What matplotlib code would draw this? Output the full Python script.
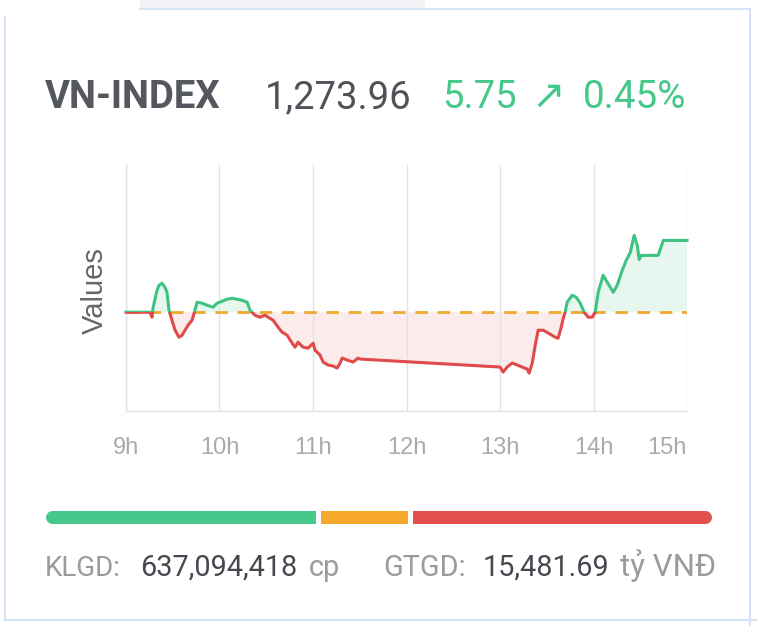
import numpy as np
import matplotlib.pyplot as plt
from matplotlib.patches import Rectangle

# ==========================
# Data
# ==========================

index_name = "VN-INDEX"
index_close = 1273.96
index_change = 5.75
index_change_pct = 0.45
ref_price = round(index_close - index_change, 2)

# phút kể từ 9:00
minutes = [
    0, 15.4, 16.7, 17.3, 19.9, 21.2, 23.1, 25.0, 26.3, 27.6,
    29.5, 31.5, 34.0, 36.0, 37.9, 39.8, 42.4, 43.7, 45.6, 48.8,
    52.0, 55.9, 58.4, 61.6, 64.8, 68.1, 71.3, 74.5, 77.7, 79.6,
    82.8, 86.0, 89.2, 91.2, 94.4, 97.6, 100.2, 103.4, 106.6, 108.5,
    110.4, 113.6, 116.8, 120.1, 121.3, 124.5, 126.5, 129.7, 132.9, 135.5,
    137.4, 138.7, 141.9, 145.7, 149.0, 150.0,
    240.0, 242.0, 244.6, 247.8, 251.0, 254.2, 257.4, 258.7, 260.7, 262.6,
    264.5, 267.7, 272.2, 275.4, 277.3, 279.3, 280.6, 281.8, 283.1, 286.3,
    288.9, 291.5, 294.0, 296.6, 299.2, 301.1, 303.0, 306.2, 308.8, 312.7,
    315.2, 318.4, 321.0, 323.6, 326.1, 328.1, 329.3, 330.6, 341.5, 344.8,
    360.0,
]
values = [
    1268.21, 1268.21, 1267.81, 1268.53, 1269.97, 1270.37, 1270.53, 1270.21, 1269.81, 1268.37,
    1267.57, 1266.77, 1266.21, 1266.37, 1266.77, 1267.17, 1267.57, 1268.13, 1269.01, 1268.93,
    1268.77, 1268.61, 1268.93, 1269.09, 1269.25, 1269.33, 1269.25, 1269.17, 1269.01, 1268.37,
    1267.97, 1267.81, 1267.97, 1267.81, 1267.57, 1267.01, 1266.61, 1266.37, 1265.73, 1265.41,
    1265.81, 1265.41, 1265.33, 1265.73, 1265.17, 1264.78, 1264.22, 1263.98, 1263.90, 1263.74,
    1264.14, 1264.54, 1264.38, 1264.22, 1264.54, 1264.46,
    1263.82, 1263.42, 1263.82, 1264.14, 1263.98, 1263.82, 1263.66, 1263.34, 1264.14, 1265.57,
    1266.77, 1266.77, 1266.45, 1266.21, 1266.13, 1267.01, 1267.73, 1268.21, 1269.01, 1269.57,
    1269.41, 1268.93, 1268.21, 1267.81, 1267.81, 1268.21, 1269.81, 1271.17, 1270.61, 1269.81,
    1270.37, 1271.56, 1272.36, 1273.00, 1274.36, 1273.56, 1272.44, 1272.76, 1272.76, 1273.96,
    1273.96,
]

hour_ticks = [9, 10, 11, 12, 13, 14, 15]
hour_labels = ["9h", "10h", "11h", "12h", "13h", "14h", "15h"]

# tăng / tham chiếu / giảm (%)
breadth = [41.0, 13.7, 45.3]
breadth_colors = ["#45C88A", "#F5A82A", "#E34F4F"]

volume = "637,094,418"
turnover = "15,481.69"

# ==========================
# Style
# ==========================

GREEN = "#3EC383"
RED = "#E04A4A"
ORANGE = "#EEA92E"
GRID = "#E2E2E2"
BORDER = "#D3E3F5"

W, H = 757, 626

def fx(x):
    return x / W

def fy(y):
    return 1 - y / H

HEAD = ["Roboto", "DejaVu Sans"]

fig = plt.figure(figsize=(W / 100, H / 100), dpi=100)
fig.patch.set_facecolor("white")

# card border
bg = fig.add_axes([0, 0, 1, 1])
bg.set_xlim(0, W)
bg.set_ylim(H, 0)
bg.axis("off")
bg.add_patch(Rectangle((140, 0), 285, 8, color="#F1F2F5", lw=0))
bg.plot([140, 750], [9, 9], color=BORDER, lw=1.5)
bg.plot([750, 750], [9, H], color=BORDER, lw=1.5)
bg.plot([5, 5], [17, 620], color=BORDER, lw=1.5)
bg.plot([5, W], [620, 620], color=BORDER, lw=1.5)

# ==========================
# Header
# ==========================

fig.text(fx(45), fy(108), index_name, family=HEAD, fontsize=27.5,
         fontweight="bold", color="#54575E", va="baseline")
fig.text(fx(265), fy(108), f"{index_close:,.2f}", family=HEAD, fontsize=27.5,
         color="#4F5257", va="baseline")
fig.text(fx(442), fy(108), f"{index_change:.2f}", family=HEAD, fontsize=27.5,
         color="#45C88A", va="baseline")
fig.text(fx(548), fy(108), "\u2197", family=["DejaVu Sans"], fontsize=29,
         color="#45C88A", va="baseline", ha="center")
fig.text(fx(583), fy(108), f"{index_change_pct:.2f}%", family=HEAD, fontsize=27.8,
         color="#45C88A", va="baseline")

# ==========================
# Intraday chart
# ==========================

hours = 9 + np.array(minutes) / 60.0
vals = np.array(values)

ax = fig.add_axes([fx(126), fy(411), (687 - 126) / W, (411 - 165) / H])
ax.set_xlim(9, 15)
ax.set_ylim(1260.3, 1280)

ax.fill_between(hours, vals, ref_price, where=vals >= ref_price,
                interpolate=True, color=GREEN, alpha=0.12, lw=0)
ax.fill_between(hours, vals, ref_price, where=vals <= ref_price,
                interpolate=True, color=RED, alpha=0.11, lw=0)

ax.axhline(ref_price, color=ORANGE, lw=2.0, dashes=(4.5, 3.5), zorder=2)

up_line, = ax.plot(hours, vals, color=GREEN, lw=2.2, zorder=3)
dn_line, = ax.plot(hours, vals, color=RED, lw=2.2, zorder=3)
up_line.set_clip_path(Rectangle((8, ref_price), 8, 40, transform=ax.transData))
dn_line.set_clip_path(Rectangle((8, ref_price - 40), 8, 40, transform=ax.transData))

ax.set_xticks(hour_ticks)
ax.set_xticklabels(hour_labels)
ax.get_xticklabels()[-1].set_ha("right")
ax.set_yticks([])
ax.tick_params(axis="x", length=0, pad=19, labelsize=17, labelcolor="#AAAAAA")
for lab in ax.get_xticklabels():
    lab.set_family("Liberation Sans")

ax.grid(axis="x", color=GRID, lw=1)
for side in ["top", "right"]:
    ax.spines[side].set_visible(False)
for side in ["left", "bottom"]:
    ax.spines[side].set_color(GRID)
    ax.spines[side].set_linewidth(1)

ax.set_ylabel("Values", family="Liberation Sans", fontsize=21, color="#666666")
ax.yaxis.set_label_coords(-0.03, 0.49)

# ==========================
# Market breadth bar
# ==========================

bx = fig.add_axes([fx(45), fy(530), (712 - 45) / W, 26 / H])
total = sum(breadth)
bx.set_xlim(0, total)
bx.set_ylim(-1, 1)
bx.axis("off")

bar_lw = 13 * 72 / 100
r = 6.5 / 667 * total
b1 = breadth[0]
b2 = breadth[0] + breadth[1]
bx.plot([r, b1], [0, 0], color=breadth_colors[0], lw=bar_lw, solid_capstyle="round")
bx.plot([b1, b2], [0, 0], color=breadth_colors[1], lw=bar_lw, solid_capstyle="butt")
bx.plot([b2 + r, total - r], [0, 0], color=breadth_colors[2], lw=bar_lw,
        solid_capstyle="round")
bx.plot([b2, b2 + r], [0, 0], color=breadth_colors[2], lw=bar_lw, solid_capstyle="butt")
for b in [b1, b2]:
    bx.axvline(b, color="white", lw=3.6)

# ==========================
# Volume / turnover
# ==========================

fig.text(fx(45), fy(576), "KLGD:", family=HEAD, fontsize=20, color="#9B9B9B", va="baseline")
fig.text(fx(140), fy(576), volume, family=HEAD, fontsize=20.8, color="#454850", va="baseline")
fig.text(fx(309), fy(576), "cp", family=HEAD, fontsize=20.8, color="#9B9B9B", va="baseline")
fig.text(fx(383), fy(576), "GTGD:", family=HEAD, fontsize=20.8, color="#9B9B9B", va="baseline")
fig.text(fx(483), fy(576), turnover, family=HEAD, fontsize=20.8, color="#454850", va="baseline")
fig.text(fx(620), fy(576), "tỷ VNĐ", family=HEAD, fontsize=22.5, color="#9B9B9B", va="baseline")

fig.savefig("out.png", dpi=100)
